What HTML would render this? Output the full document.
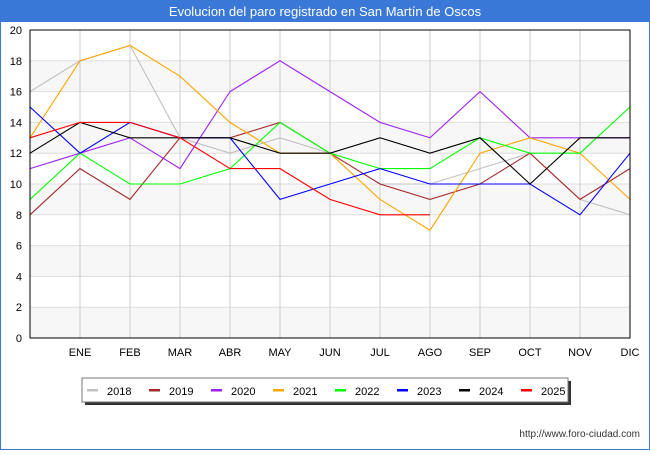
<!DOCTYPE html>
<html><head><meta charset="utf-8"><style>
body{margin:0;width:650px;height:450px;background:#fff;font-family:"Liberation Sans","DejaVu Sans",sans-serif;overflow:hidden}
</style></head><body>
<svg width="650" height="450" xmlns="http://www.w3.org/2000/svg">
<rect x="0" y="0" width="650" height="450" fill="#fff" stroke="#3a78d8" stroke-width="2"/>
<rect x="0" y="0" width="650" height="22" fill="#3a78d8"/>
<text x="325" y="16" text-anchor="middle" fill="#fff" font-size="13">Evolucion del paro registrado en San Martín de Oscos</text>
<g id="bands"></g><g id="grid"></g><g id="lines"></g><g id="axes"></g>
<rect x="85" y="381" width="486" height="24" fill="#333"/>
<rect x="82" y="378" width="486" height="24" fill="#fff" stroke="#777"/>
<g id="legend"></g>
<text x="640" y="437" text-anchor="end" font-size="10" fill="#333">http://www.foro-ciudad.com</text>
</svg>
<script>
const months=["","ENE","FEB","MAR","ABR","MAY","JUN","JUL","AGO","SEP","OCT","NOV","DIC"];
const yTicks=[0,2,4,6,8,10,12,14,16,18,20];
const years=["2018","2019","2020","2021","2022","2023","2024","2025"];
const colors=["#c0c0c0","#a52a2a","#a020f0","#ffa500","#00ff00","#0000ff","#000000","#ff0000"];
const s2018=[16,18,19,13,12,13,12,10,10,11,12,9,8];
const s2019=[8,11,9,13,13,14,12,10,9,10,12,9,11];
const s2020=[11,12,13,11,16,18,16,14,13,16,13,13,13];
const s2021=[13,18,19,17,14,12,12,9,7,12,13,12,9];
const s2022=[9,12,10,10,11,14,12,11,11,13,12,12,15];
const s2023=[15,12,14,13,13,9,10,11,10,10,10,8,12];
const s2024=[12,14,13,13,13,12,12,13,12,13,10,13,13];
const s2025=[13,14,14,13,11,11,9,8,8];
const series=[s2018,s2019,s2020,s2021,s2022,s2023,s2024,s2025];
const NS="http://www.w3.org/2000/svg";
const X0=30,X1=630,Y0=338,Y1=30;
const x=i=>X0+i*(X1-X0)/12;
const y=v=>Y0-v*(Y0-Y1)/20;
function mk(t,a,p){const e=document.createElementNS(NS,t);for(const k in a)e.setAttribute(k,a[k]);document.getElementById(p).appendChild(e);return e;}
for(let v=0;v<20;v+=4){
 const b=mk('rect',{x:X0,y:y(v+2),width:X1-X0,height:y(v)-y(v+2),fill:'#f7f7f7'},'bands');
 
 
}
yTicks.forEach(v=>{
 const l=mk('line',{x1:X0,x2:X1,y1:y(v),y2:y(v),stroke:'#ddd'},'grid');
 
 
 const t=mk('text',{x:X0-8,y:y(v)+4,'text-anchor':'end','font-size':'11',fill:'#000'},'axes');
 t.textContent=v;
 
 
});
months.forEach((m,i)=>{
 if(i>0){const l=mk('line',{x1:x(i),x2:x(i),y1:Y1,y2:Y0,stroke:'#ccc'},'grid');
 
 }
 const t=mk('text',{x:x(i),y:356,'text-anchor':'middle','font-size':'11',fill:'#000'},'axes');
 t.textContent=m;
 
 
});
const ax=mk('rect',{x:X0,y:Y1,width:X1-X0,height:Y0-Y1,fill:'none',stroke:'#000'},'axes');


series.forEach((s,k)=>{
 const p=mk('polyline',{points:s.map((v,i)=>x(i)+','+y(v)).join(' '),fill:'none',stroke:colors[k],'stroke-width':'1.1'},'lines');
 
 
});
years.forEach((yr,k)=>{
 const lx=87+k*62;
 const r=mk('rect',{x:lx,y:389,width:11,height:2.5,fill:colors[k]},'legend');
 
 
 const t=mk('text',{x:lx+20,y:395,'font-size':'11',fill:'#000'},'legend');
 t.textContent=yr;
 
 
});
</script>
</body></html>
